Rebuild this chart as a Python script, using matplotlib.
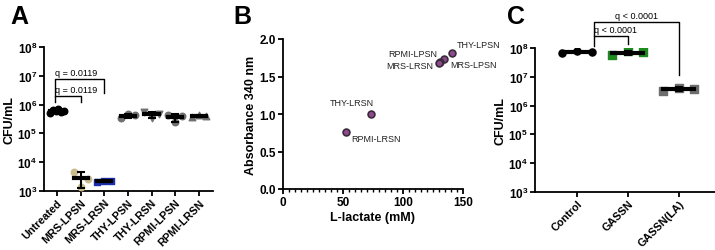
import numpy as np
import matplotlib.pyplot as plt
from matplotlib.ticker import FixedLocator, MultipleLocator

plt.rcParams['font.family'] = ['Liberation Sans', 'DejaVu Sans']

# Panel A data: CFU/mL per supernatant treatment
groups_a = ['Untreated', 'MRS-LPSN', 'MRS-LRSN', 'THY-LPSN', 'THY-LRSN', 'RPMI-LPSN', 'RPMI-LRSN']
untreated = [5.2e5, 6.4e5, 5.8e5, 6.8e5, 5.5e5, 6.1e5]
mrs_lpsn = [4.5e3, 1.4e3, 2.7e3]
mrs_lrsn = [2.0e3, 2.2e3, 2.3e3]
thy_lpsn = [3.3e5, 4.6e5, 4.5e5]
thy_lrsn = [5.6e5, 3.4e5, 4.6e5]
rpmi_lpsn = [4.2e5, 2.4e5, 4.1e5]
rpmi_lrsn = [3.7e5, 4.3e5, 4.0e5]
values_a = [untreated, mrs_lpsn, mrs_lrsn, thy_lpsn, thy_lrsn, rpmi_lpsn, rpmi_lrsn]
colors_a = ['black', '#c8bc8c', '#1a2fb0', '#707070', '#707070', '#707070', '#707070']
markers_a = ['o', 'o', 's', 'o', 'v', 'o', '^']

# Panel B data: L-lactate vs absorbance
labels_b = ['THY-LPSN', 'MRS-LPSN', 'RPMI-LPSN', 'MRS-LRSN', 'THY-LRSN', 'RPMI-LRSN']
lactate = [141, 134, 131, 130, 73, 52.5]
absorb = [1.81, 1.73, 1.70, 1.68, 1.00, 0.76]

# Panel C data
groups_c = ['Control', 'GASSN', 'GASSN(LA)']
control = [6.8e7, 8.0e7, 7.2e7]
gassn = [5.8e7, 7.6e7, 7.0e7]
gassn_la = [3.3e6, 4.2e6, 3.9e6]
values_c = [control, gassn, gassn_la]
colors_c = ['black', '#1f8a1f', '#6e6e6e']
markers_c = ['o', 's', 's']

fig = plt.figure(figsize=(7.15, 2.51), dpi=100)
axA = fig.add_axes([44 / 715, 1 - 192 / 251, 169 / 715, 144 / 251])
axB = fig.add_axes([283 / 715, 1 - 190 / 251, 180 / 715, 150 / 251])
axC = fig.add_axes([535 / 715, 1 - 193 / 251, 182 / 715, 144 / 251])

TICK_FS = 8.5
XCAT_FS = 7.8
LABEL_FS = 9


def style_axis(ax):
    for s in ['top', 'right']:
        ax.spines[s].set_visible(False)
    for s in ['left', 'bottom']:
        ax.spines[s].set_linewidth(1.3)
    ax.tick_params(width=1.3, length=3.5, labelsize=TICK_FS, pad=1.5)


def style_log_axis(ax):
    ax.set_yscale('log')
    ax.set_ylim(1e3, 1e8)
    ax.yaxis.set_major_locator(FixedLocator([1e3, 1e4, 1e5, 1e6, 1e7, 1e8]))
    ax.yaxis.set_minor_locator(FixedLocator([]))
    ax.set_ylabel('CFU/mL', fontsize=LABEL_FS, fontweight='bold', labelpad=1)
    style_axis(ax)
    ax.tick_params(axis='x', pad=1)
    for t in ax.get_yticklabels():
        t.set_fontweight('bold')


def dot_plot(ax, values, colors, markers, spread, msize):
    for i, vals in enumerate(values):
        n = len(vals)
        offs = np.linspace(-spread, spread, n)
        mean = np.mean(vals)
        sd = np.std(vals, ddof=1)
        ax.scatter(i + offs, vals, s=msize, color=colors[i], marker=markers[i],
                   zorder=3, edgecolors=colors[i])
        ax.plot([i - spread, i + spread], [mean, mean], color='black', lw=3, zorder=4)
        ax.errorbar(i, mean, yerr=[[min(sd, mean * 0.9)], [sd]], color='black', lw=1.5,
                    capsize=3, capthick=1.5, zorder=4)


def bracket(ax, x0, x1, y, yl, yr, text, tx):
    ax.plot([x0, x0, x1, x1], [yl, y, y, yr], color='black', lw=1, clip_on=False)
    ax.annotate(text, (tx, y), xytext=(0, 1.5), textcoords='offset points',
                ha='center', va='bottom', fontsize=6.5, annotation_clip=False)


# ---- Panel A ----
style_log_axis(axA)
dot_plot(axA, values_a, colors_a, markers_a, 0.3, 22)
axA.set_xlim(-0.55, 6.6)
axA.set_xticks(range(len(groups_a)))
axA.set_xticklabels(groups_a, rotation=45, ha='right', rotation_mode='anchor',
                    fontweight='bold', fontsize=XCAT_FS)
bracket(axA, -0.08, 1.0, 10 ** 6.3, 10 ** 6.08, 10 ** 6.08, 'q = 0.0119', 0.8)
bracket(axA, -0.08, 2.0, 10 ** 6.89, 10 ** 6.3, 10 ** 6.42, 'q = 0.0119', 0.8)

# ---- Panel B ----
axB.scatter(lactate, absorb, s=24, color='#8e4a8e', edgecolors='#3a2a3a', linewidths=1.2, zorder=3)
axB.set_xlim(0, 150)
axB.set_ylim(0, 2.0)
axB.xaxis.set_major_locator(MultipleLocator(50))
axB.xaxis.set_minor_locator(MultipleLocator(5))
axB.yaxis.set_major_locator(MultipleLocator(0.5))
axB.set_xlabel('L-lactate (mM)', fontsize=LABEL_FS, fontweight='bold', labelpad=2)
axB.set_ylabel('Absorbance 340 nm', fontsize=LABEL_FS, fontweight='bold', labelpad=2)
style_axis(axB)
axB.tick_params(which='minor', width=1, length=2.5)
for t in axB.get_xticklabels() + axB.get_yticklabels():
    t.set_fontweight('bold')
offsets_b = {'THY-LPSN': (3, 6, 'left'), 'MRS-LPSN': (5, -4, 'left'),
             'RPMI-LPSN': (-2, 6, 'right'), 'MRS-LRSN': (-4, -2, 'right'),
             'THY-LRSN': (2, 8, 'right'), 'RPMI-LRSN': (4, -5, 'left')}
for lab, x, y in zip(labels_b, lactate, absorb):
    dx, dy, ha = offsets_b[lab]
    axB.annotate(lab, (x, y), xytext=(dx, dy), textcoords='offset points',
                 ha=ha, va='center', fontsize=6.5, color='#222222')

# ---- Panel C ----
style_log_axis(axC)
dot_plot(axC, values_c, colors_c, markers_c, 0.3, 26)
axC.set_xlim(-0.82, 2.75)
axC.set_xticks(range(len(groups_c)))
axC.set_xticklabels(groups_c, rotation=45, ha='right', rotation_mode='anchor',
                    fontweight='bold', fontsize=XCAT_FS)
bracket(axC, 0.33, 1.0, 10 ** 8.42, 10 ** 8.07, 10 ** 8.14, 'q < 0.0001', 0.75)
bracket(axC, 0.33, 2.0, 10 ** 8.9, 10 ** 8.42, 10 ** 7.06, 'q < 0.0001', 1.18)

for lab, x in [('A', 10), ('B', 233), ('C', 507)]:
    fig.text(x / 715, 1 - 5 / 251, lab, fontsize=18, fontweight='bold', va='top', ha='left')

fig.savefig('out.png', dpi=100)
